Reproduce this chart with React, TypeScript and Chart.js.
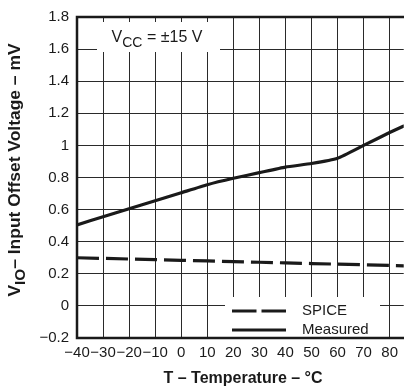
import React, { useEffect, useRef } from "react";
import { Chart, registerables } from "chart.js";

Chart.register(...registerables);

// Temperature (°C) and input offset voltage (mV)
const temperatures = [-40, -30, -20, -10, 0, 10, 20, 30, 40, 50, 60, 70, 80, 90];
const measuredVio = [0.505, 0.555, 0.605, 0.655, 0.705, 0.755, 0.795, 0.83, 0.865, 0.887, 0.92, 1.0, 1.08, 1.155];
const spiceVio = [0.3, 0.296, 0.292, 0.288, 0.284, 0.28, 0.276, 0.272, 0.268, 0.264, 0.26, 0.256, 0.252, 0.248];

const xTickValues = [-40, -30, -20, -10, 0, 10, 20, 30, 40, 50, 60, 70, 80];
const yTickValues = [-0.2, 0, 0.2, 0.4, 0.6, 0.8, 1, 1.2, 1.4, 1.6, 1.8];

const FONT = "'Liberation Sans', Arial, Helvetica, sans-serif";
const INK = "#1a1a1a";

const fmt = (v: number) => {
  const r = Math.round(v * 10) / 10;
  const s = String(r);
  return r < 0 ? "\u2212" + s.slice(1) : s;
};

type Seg = { t: string; sub?: boolean };

// Draws a run of text (with optional subscripts) centred on (cx, cy),
// optionally stretched so that it spans `targetWidth` pixels.
function drawSegments(
  ctx: CanvasRenderingContext2D,
  segs: Seg[],
  cx: number,
  cy: number,
  size: number,
  subSize: number,
  bold: boolean,
  targetWidth?: number
) {
  const setFont = (s: Seg) => {
    ctx.font = `${bold ? "bold " : ""}${s.sub ? subSize : size}px ${FONT}`;
  };
  const total = segs.reduce((a, s) => {
    setFont(s);
    return a + ctx.measureText(s.t).width;
  }, 0);
  const k = targetWidth ? targetWidth / total : 1;
  ctx.save();
  ctx.translate(cx, cy);
  ctx.scale(k, 1);
  let x = -total / 2;
  ctx.textBaseline = "middle";
  ctx.textAlign = "left";
  for (const s of segs) {
    setFont(s);
    ctx.fillText(s.t, x, s.sub ? size * 0.32 : 0);
    x += ctx.measureText(s.t).width;
  }
  ctx.restore();
}

const overlays = {
  id: "overlays",
  beforeDatasetsDraw(chart: any) {
    const { ctx, chartArea: a } = chart;
    ctx.save();
    ctx.fillStyle = "#ffffff";
    // condition box and legend box hide the grid behind them
    ctx.fillRect(a.left + 20, a.top + 5, 123, 30);
    ctx.fillRect(a.left + 148, a.top + 280, 155, 43);
    ctx.restore();
  },
  afterDraw(chart: any) {
    const { ctx, chartArea: a } = chart;
    ctx.save();
    ctx.strokeStyle = INK;
    ctx.lineWidth = 2.5;
    ctx.beginPath();
    ctx.moveTo(a.right + 2, a.top);
    ctx.lineTo(a.left, a.top);
    ctx.lineTo(a.left, a.bottom);
    ctx.lineTo(a.right + 2, a.bottom);
    ctx.stroke();

    ctx.fillStyle = INK;
    // supply condition
    drawSegments(ctx, [{ t: "V" }, { t: "CC", sub: true }, { t: " = \u00b115 V" }], a.left + 80, a.top + 21, 16, 14, false);

    // legend
    const lx = a.left + 155;
    ctx.lineWidth = 3.2;
    ctx.lineCap = "butt";
    ctx.setLineDash([24.5, 5]);
    ctx.beginPath();
    ctx.moveTo(lx, a.top + 294);
    ctx.lineTo(lx + 54, a.top + 294);
    ctx.stroke();
    ctx.setLineDash([]);
    ctx.beginPath();
    ctx.moveTo(lx, a.top + 313);
    ctx.lineTo(lx + 54, a.top + 313);
    ctx.stroke();
    ctx.font = `15px ${FONT}`;
    ctx.textAlign = "left";
    ctx.textBaseline = "middle";
    ctx.fillText("SPICE", lx + 70, a.top + 294);
    ctx.fillText("Measured", lx + 70, a.top + 313);

    // axis titles
    drawSegments(ctx, [{ t: "T \u2013 Temperature \u2013 \u00b0C" }], 243, 379, 16, 16, true);

    ctx.translate(16, 170);
    ctx.rotate(-Math.PI / 2);
    drawSegments(
      ctx,
      [{ t: "V" }, { t: "IO", sub: true }, { t: "\u2013 Input Offset Voltage \u2013 mV" }],
      0,
      0,
      16,
      14,
      true,
      253
    );
    ctx.restore();
  },
};

export default function App() {
  const ref = useRef<HTMLCanvasElement>(null);

  useEffect(() => {
    if (!ref.current) return;
    const chart = new Chart(ref.current, {
      type: "line",
      data: {
        datasets: [
          {
            label: "SPICE",
            data: temperatures.map((t, i) => ({ x: t, y: spiceVio[i] })),
            borderColor: INK,
            borderWidth: 3.2,
            borderDash: [22, 7],
            borderCapStyle: "butt",
            pointRadius: 0,
            fill: false,
          },
          {
            label: "Measured",
            data: temperatures.map((t, i) => ({ x: t, y: measuredVio[i] })),
            borderColor: INK,
            borderWidth: 3.2,
            pointRadius: 0,
            tension: 0.15,
            fill: false,
          },
        ],
      },
      options: {
        animation: false,
        responsive: false,
        layout: { padding: { top: 10, right: 0, left: 0, bottom: 0 } },
        plugins: { legend: { display: false }, tooltip: { enabled: false } },
        scales: {
          x: {
            type: "linear",
            min: -40,
            max: 85.4,
            afterBuildTicks: (s: any) => {
              s.ticks = xTickValues.map((v) => ({ value: v }));
            },
            afterFit: (s: any) => {
              s.height = 54;
            },
            grid: { color: "#2a2a2a", lineWidth: 1, drawTicks: false },
            border: { display: false },
            ticks: {
              padding: 6,
              color: INK,
              font: { family: FONT, size: 15 },
              maxRotation: 0,
              autoSkip: false,
              callback: (v: any) => fmt(Number(v)),
            },
          },
          y: {
            type: "linear",
            min: -0.2,
            max: 1.8,
            afterBuildTicks: (s: any) => {
              s.ticks = yTickValues.map((v) => ({ value: v }));
            },
            afterFit: (s: any) => {
              s.width = 77;
            },
            grid: { color: "#2a2a2a", lineWidth: 1, drawTicks: false },
            border: { display: false },
            ticks: {
              padding: 8,
              color: INK,
              font: { family: FONT, size: 15 },
              autoSkip: false,
              callback: (v: any) => fmt(Number(v)),
            },
          },
        },
      },
      plugins: [overlays],
    } as any);
    return () => chart.destroy();
  }, []);

  return (
    <div style={{ position: "fixed", left: 0, top: 0, width: 404, height: 392, background: "#fff" }}>
      <canvas ref={ref} width={404} height={392} />
    </div>
  );
}
